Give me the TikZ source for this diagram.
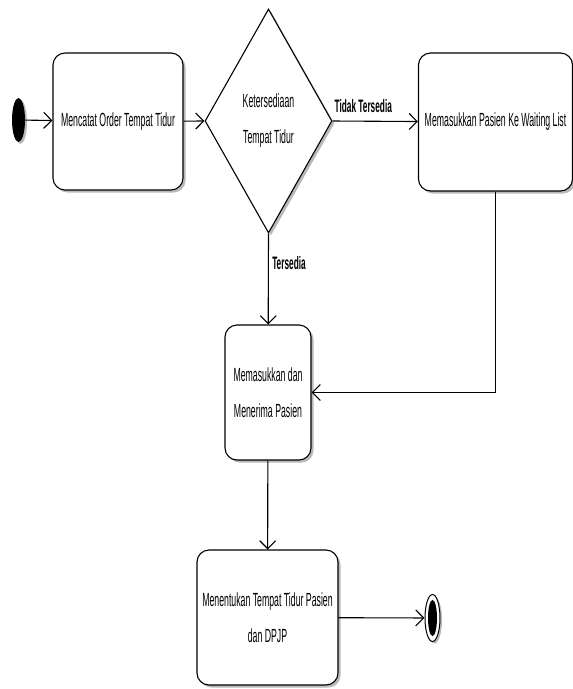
\documentclass[tikz,border=0pt]{standalone}
\usepackage{fontspec}
\setmainfont{Liberation Sans}[FakeStretch=0.46]
\usetikzlibrary{arrows.meta,shapes.geometric,shadows}

\begin{document}
\begin{tikzpicture}[x=1pt,y=-1pt,
  act/.style={draw, line width=1.1pt, rounded corners=12pt, fill=white,
    drop shadow={shadow xshift=2.5pt,shadow yshift=-2.5pt,fill=gray!55,opacity=1},
    align=center, font=\fontsize{19}{36}\selectfont},
  flow/.style={draw, line width=1.1pt, -{Straight Barb[length=8pt,width=16pt]}},
  lbl/.style={font=\fontsize{18}{20}\selectfont\bfseries}]
\useasboundingbox (0,0) rectangle (573,689);

% start and end
\node (start) [ellipse, fill=black, minimum width=13pt, minimum height=44pt, inner sep=0pt,
  drop shadow={shadow xshift=2pt,shadow yshift=-2pt,fill=gray!55,opacity=1}] at (18.5,120) {};
\node (stop) [ellipse, draw, line width=1pt, fill=white, minimum width=15pt, minimum height=47pt, inner sep=0pt,
  drop shadow={shadow xshift=2pt,shadow yshift=-2pt,fill=gray!55,opacity=1}] at (432.5,618) {};
\node (stopdot) [ellipse, fill=black, minimum width=9pt, minimum height=36pt, inner sep=0pt] at (stop) {};

% activities
\node (order) [act, minimum width=130pt, minimum height=137pt] at (118,121.5) {Mencatat Order Tempat Tidur};
\node (cek) [diamond, draw, line width=1.1pt, fill=white, inner sep=0pt, minimum width=127pt, minimum height=224pt,
  drop shadow={shadow xshift=2.5pt,shadow yshift=-2.5pt,fill=gray!55,opacity=1},
  align=center, font=\fontsize{19}{36}\selectfont] at (268.5,121) {Ketersediaan\\Tempat Tidur};
\node (waiting) [act, minimum width=154pt, minimum height=138pt] at (495.5,122) {Memasukkan Pasien Ke Waiting List};
\node (terima) [act, minimum width=86pt, minimum height=135pt] at (268,392.5) {Memasukkan dan\\Menerima Pasien};
\node (tentukan) [act, minimum width=141pt, minimum height=135pt] at (267.5,617.5) {Menentukan Tempat Tidur Pasien\\dan DPJP};

% flows
\draw[flow] (start) -- (order);
\draw[flow] (order) -- (cek.west);
\draw[flow] (cek.east) -- node[lbl, above=5pt, pos=0.36] {Tidak Tersedia} (waiting);
\draw[flow] (cek.south) -- node[lbl, right=0pt, pos=0.32] {Tersedia} (terima);
\draw[flow] (waiting.south) |- (terima.east);
\draw[flow] (terima) -- (tentukan);
\draw[flow] (tentukan) -- (stop);

\end{tikzpicture}
\end{document}
